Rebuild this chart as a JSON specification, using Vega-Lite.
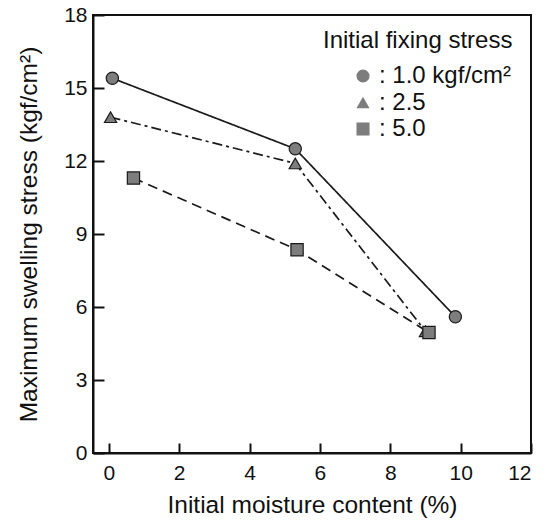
{
  "$schema": "https://vega.github.io/schema/vega-lite/v6.json",
  "width": 438,
  "height": 438,
  "autosize": {"type": "none"},
  "padding": {"left": 93, "top": 15, "right": 17, "bottom": 70},
  "background": "white",
  "config": {
    "font": "Liberation Sans",
    "view": {"stroke": "#111", "strokeWidth": 2},
    "axis": {
      "grid": false,
      "domainColor": "#111",
      "domainWidth": 2,
      "tickColor": "#111",
      "tickWidth": 2,
      "labelColor": "#111",
      "titleColor": "#111",
      "labelFontSize": 21,
      "titleFontSize": 24.5,
      "titleFontWeight": "normal",
      "labelFont": "Liberation Sans",
      "titleFont": "Liberation Sans"
    },
    "legend": {
      "labelFont": "Liberation Sans",
      "titleFont": "Liberation Sans"
    }
  },
  "data": {
    "values": [
      {"stress": "1.0", "moisture": 0.1, "swelling": 15.4},
      {"stress": "1.0", "moisture": 5.3, "swelling": 12.5},
      {"stress": "1.0", "moisture": 9.85, "swelling": 5.6},
      {"stress": "2.5", "moisture": 0.05, "swelling": 13.8},
      {"stress": "2.5", "moisture": 5.3, "swelling": 11.9},
      {"stress": "2.5", "moisture": 9.0, "swelling": 5.0},
      {"stress": "5.0", "moisture": 0.7, "swelling": 11.3},
      {"stress": "5.0", "moisture": 5.35, "swelling": 8.35},
      {"stress": "5.0", "moisture": 9.1, "swelling": 4.95}
    ]
  },
  "encoding": {
    "x": {
      "field": "moisture",
      "type": "quantitative",
      "scale": {"domain": [-0.45, 12], "nice": false, "zero": false},
      "axis": {
        "title": "Initial moisture content (%)",
        "values": [0, 2, 4, 6, 8, 10, 12],
        "tickSize": -10,
        "labelPadding": 19,
        "titlePadding": 10
      }
    },
    "y": {
      "field": "swelling",
      "type": "quantitative",
      "scale": {"domain": [0, 18], "nice": false},
      "axis": {
        "title": "Maximum swelling stress (kgf/cm²)",
        "values": [0, 3, 6, 9, 12, 15, 18],
        "tickSize": -11,
        "labelPadding": 17,
        "titlePadding": 22
      }
    }
  },
  "layer": [
    {
      "mark": {"type": "line", "color": "#1a1a1a", "strokeWidth": 1.7},
      "encoding": {
        "detail": {"field": "stress"},
        "strokeDash": {
          "field": "stress",
          "type": "nominal",
          "scale": {
            "domain": ["1.0", "2.5", "5.0"],
            "range": [[1, 0], [10, 4, 3, 4], [10, 6]]
          },
          "legend": null
        }
      }
    },
    {
      "mark": {
        "type": "point",
        "filled": true,
        "fill": "#7d7d7d",
        "stroke": "#1a1a1a",
        "strokeWidth": 1.2,
        "opacity": 1,
        "size": 150
      },
      "encoding": {
        "shape": {
          "field": "stress",
          "type": "nominal",
          "scale": {
            "range": ["circle", "triangle-up", "square"]
          },
          "legend": {
            "title": "Initial fixing stress",
            "orient": "none",
            "legendX": 230,
            "legendY": 14,
            "padding": 0,
            "titleFontSize": 24,
            "titleFontWeight": "normal",
            "titleColor": "#111",
            "titlePadding": 11,
            "titleLimit": 400,
            "labelFontSize": 24,
            "labelColor": "#111",
            "labelLimit": 400,
            "labelExpr": "datum.label == '1.0' ? ': 1.0 kgf/cm²' : ': ' + datum.label",
            "labelOffset": 4,
            "symbolOffset": 28,
            "symbolSize": 170,
            "symbolFillColor": "#7d7d7d",
            "symbolStrokeColor": "#1a1a1a",
            "symbolStrokeWidth": 1.2,
            "rowPadding": 2.5
          }
        }
      }
    }
  ]
}
